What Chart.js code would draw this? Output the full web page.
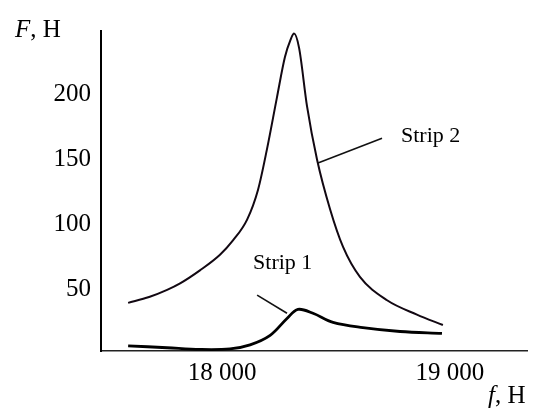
<!DOCTYPE html>
<html>
<head>
<meta charset="utf-8">
<script src="https://cdn.jsdelivr.net/npm/chart.js@4.4.1/dist/chart.umd.min.js"></script>
<style>
html, body { margin: 0; padding: 0; background: #fff; }
#wrap { width: 535px; height: 408px; }
</style>
</head>
<body>
<div id="wrap"><canvas id="chartCanvas"></canvas></div>
<script>
// frequency values
const freq2  = [17588, 17680, 17759, 17816, 17903, 17991, 18048, 18110, 18158, 18197, 18241, 18276, 18300, 18316, 18338, 18373, 18417, 18474, 18531, 18605, 18724, 18855, 18969];
const force2 = [40, 44.5, 50, 55, 65, 77, 88, 104, 127, 158, 198, 229, 242, 247, 236, 191, 150, 112, 83, 60, 42, 31, 23];

const freq1  = [17588, 17759, 17904, 18035, 18123, 18211, 18285, 18333, 18399, 18487, 18618, 18781, 18965];
const force1 = [7, 5.5, 4.2, 4.6, 7.7, 15, 28, 35, 32, 25, 21, 18, 16.5];

const yTicks = [50, 100, 150, 200];
const xTicks = [18000, 19000];

const serif = "'Liberation Serif', 'Times New Roman', serif";

function toPoints(xs, ys) {
    return xs.map((x, i) => ({ x: x, y: ys[i] }));
}

// labels with leader lines, given in data units
const notes = [
    { text: "Strip 2", x: 18785, y: 168, from: [18702, 166.5], to: [18421, 147.5] },
    { text: "Strip 1", x: 18136, y: 70.5, from: [18154, 46], to: [18285, 32] }
];

const extras = {
    id: "extras",
    afterDatasetsDraw(chart) {
        const ctx = chart.ctx;
        const xs = chart.scales.x, ys = chart.scales.y;
        ctx.save();
        ctx.strokeStyle = "#111";
        ctx.lineWidth = 1.6;
        ctx.fillStyle = "#000";
        ctx.font = "22px " + serif;
        ctx.textBaseline = "middle";
        notes.forEach(n => {
            ctx.beginPath();
            ctx.moveTo(xs.getPixelForValue(n.from[0]), ys.getPixelForValue(n.from[1]));
            ctx.lineTo(xs.getPixelForValue(n.to[0]), ys.getPixelForValue(n.to[1]));
            ctx.stroke();
            ctx.fillText(n.text, xs.getPixelForValue(n.x), ys.getPixelForValue(n.y));
        });

        // axis names
        ctx.textBaseline = "alphabetic";
        ctx.font = "italic 25px " + serif;
        ctx.fillText("F", 15, 37);
        let w = ctx.measureText("F").width;
        ctx.font = "25px " + serif;
        ctx.fillText(", H", 15 + w, 37);

        ctx.font = "italic 25px " + serif;
        ctx.fillText("f", 488, 403);
        w = ctx.measureText("f").width;
        ctx.font = "25px " + serif;
        ctx.fillText(", H", 488 + w, 403);
        ctx.restore();
    }
};

new Chart(document.getElementById("chartCanvas"), {
    type: "line",
    data: {
        datasets: [
            {
                label: "Strip 2",
                data: toPoints(freq2, force2),
                borderColor: "#120812",
                borderWidth: 2,
                pointRadius: 0,
                cubicInterpolationMode: "monotone",
                fill: false
            },
            {
                label: "Strip 1",
                data: toPoints(freq1, force1),
                borderColor: "#000",
                borderWidth: 2.8,
                pointRadius: 0,
                tension: 0.35,
                fill: false
            }
        ]
    },
    options: {
        responsive: true,
        maintainAspectRatio: false,
        animation: false,
        devicePixelRatio: 1,
        layout: { padding: { top: 31, right: 8, left: 0, bottom: 0 } },
        plugins: {
            legend: { display: false },
            tooltip: { enabled: false }
        },
        scales: {
            x: {
                type: "linear",
                min: 17469,
                max: 19338,
                grid: { display: false },
                border: { display: true, color: "#222", width: 1.5 },
                afterFit: s => { s.height = 57; },
                afterBuildTicks: s => { s.ticks = xTicks.map(v => ({ value: v })); },
                ticks: {
                    color: "#000",
                    padding: -1,
                    maxRotation: 0,
                    font: { family: serif, size: 25 },
                    callback: v => String(v).replace(/(\d+)(\d{3})$/, "$1 $2")
                }
            },
            y: {
                min: 3,
                max: 249,
                grid: { display: false },
                border: { display: true, color: "#000", width: 2 },
                afterFit: s => { s.width = 101; },
                afterBuildTicks: s => { s.ticks = yTicks.map(v => ({ value: v })); },
                ticks: {
                    color: "#000",
                    padding: 2,
                    font: { family: serif, size: 25 }
                }
            }
        }
    },
    plugins: [extras]
});
</script>
</body>
</html>
